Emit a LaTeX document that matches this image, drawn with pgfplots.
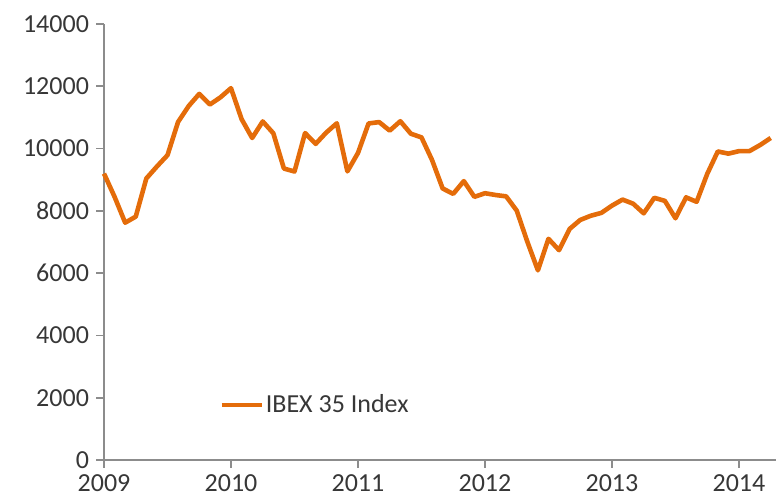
\documentclass[border=0pt]{standalone}
\usepackage{fontspec}
\setmainfont{Carlito}
\usepackage{pgfplots}
\pgfplotsset{compat=1.18}
\usepackage{pgfplotstable}
\definecolor{ibex}{RGB}{228,108,10}
\definecolor{axgray}{RGB}{140,140,140}
\definecolor{txt}{RGB}{55,55,55}
\pgfplotstableread{
i v
0 9196
1 8450
2 7620
3 7815
4 9040
5 9424
6 9788
7 10855
8 11365
9 11756
10 11414
11 11644
12 11940
13 10947
14 10340
15 10871
16 10492
17 9359
18 9263
19 10499
20 10150
21 10514
22 10812
23 9267
24 9859
25 10806
26 10850
27 10576
28 10878
29 10476
30 10359
31 9631
32 8718
33 8546
34 8955
35 8449
36 8566
37 8509
38 8465
39 8008
40 7011
41 6090
42 7102
43 6738
44 7420
45 7708
46 7843
47 7935
48 8168
49 8362
50 8230
51 7920
52 8419
53 8320
54 7762
55 8433
56 8290
57 9186
58 9907
59 9837
60 9917
61 9920
62 10114
63 10340
}\ibexdata
\begin{document}
\begin{tikzpicture}
\useasboundingbox (-52pt,-21pt) rectangle (336pt,230pt);
\begin{axis}[
  scale only axis,
  width=336pt, height=218pt,
  xmin=0, xmax=63.5,
  ymin=0, ymax=14000,
  axis x line*=bottom,
  axis y line*=left,
  axis line style={axgray, line width=0.8pt},
  tick style={axgray, line width=0.8pt},
  tick align=outside,
  major tick length=4pt,
  xtick={0,12,24,36,48,60},
  xticklabels={2009,2010,2011,2012,2013,2014},
  ytick={0,2000,4000,6000,8000,10000,12000,14000},
  scaled y ticks=false,
  /pgf/number format/assume math mode=true,
  /pgf/number format/1000 sep={},
  tick label style={font=\fontsize{13}{15}\selectfont, text=txt},
  legend style={at={(0.162,0.126)}, anchor=west, draw=none, fill=none,
    font=\fontsize{13}{15}\selectfont, text=txt,
    nodes={inner xsep=1pt}},
  legend image code/.code={\draw[#1] (0pt,0pt) -- (20pt,0pt);},
  clip=false,
]
\addplot[ibex, line width=2.3pt, line join=round] table[x=i, y=v] {\ibexdata};
\addlegendentry{IBEX 35 Index}
\end{axis}
\end{tikzpicture}
\end{document}
